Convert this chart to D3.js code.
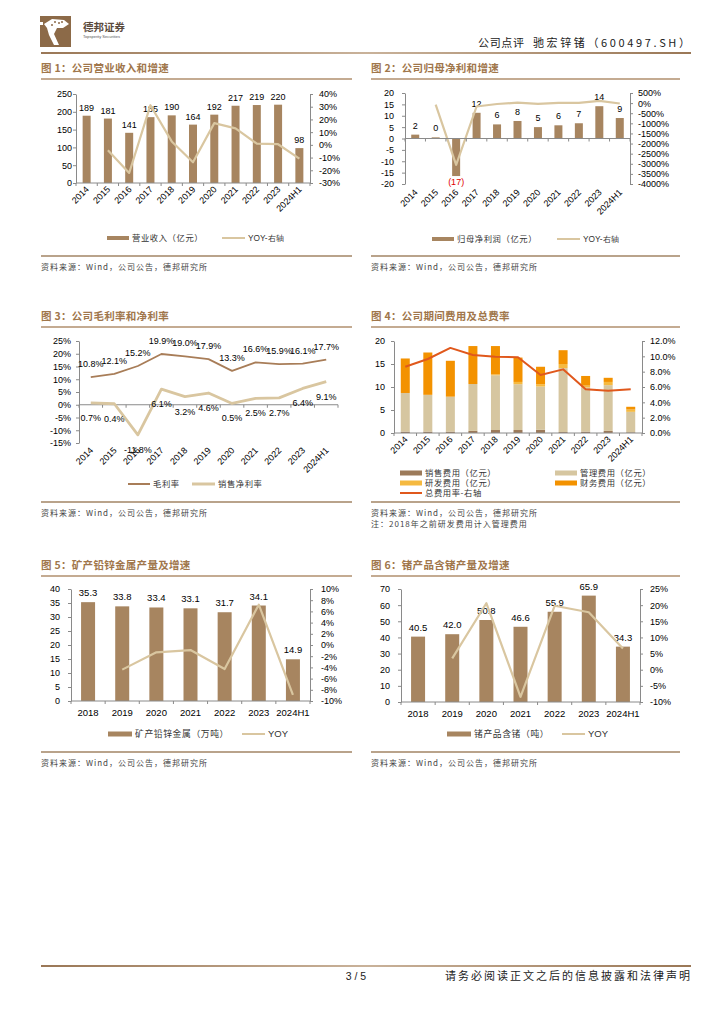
<!DOCTYPE html>
<html><head><meta charset="utf-8">
<script src="https://cdn.jsdelivr.net/npm/d3@7"></script>
<style>body{margin:0;background:#fff} svg{display:block}</style>
</head><body><svg id="c" width="724" height="1024"></svg>
<script>
// ---------------- DATA ----------------
const years11 = ["2014","2015","2016","2017","2018","2019","2020","2021","2022","2023","2024H1"];
const years7 = ["2018","2019","2020","2021","2022","2023","2024H1"];

// Fig 1
const revenue = [189,181,141,185,190,164,192,217,219,220,98];
const revenueYoy = [null,-4.2,-22.1,31.2,2.7,-13.7,17.1,13.0,0.9,0.5,-10.8];
const rev_yTicks = [0,50,100,150,200,250];
const rev_y2Ticks = [-30,-20,-10,0,10,20,30,40];

// Fig 2
const profit = [1.7,0.5,-16.5,11.3,6.2,7.7,5.0,5.8,6.7,14.2,9.0];
const profitLabels = ["2","0","(17)","12","6","8","5","6","7","14","9"];
const profitYoy = [null,-70,-3050,-168,-45,24,-35,16,15,112,-20];
const prof_yTicks = [-20,-15,-10,-5,0,5,10,15,20];
const prof_y2Ticks = [-4000,-3500,-3000,-2500,-2000,-1500,-1000,-500,0,500];

// Fig 3
const grossMargin = [10.8,12.1,15.2,19.9,19.0,17.9,13.3,16.6,15.9,16.1,17.7];
const netMargin = [0.7,0.4,-11.8,6.1,3.2,4.6,0.5,2.5,2.7,6.4,9.1];
const margin_yTicks = [-15,-10,-5,0,5,10,15,20,25];

// Fig 4
const salesExp = [0.3,0.3,0.3,0.45,0.65,0.65,0.7,0.2,0.3,0.45,0.15];
const mgmtExp  = [8.4,8.0,7.6,10.2,11.9,9.95,9.4,13.9,9.6,9.95,4.45];
const rdExp    = [0,0,0,0,0.2,0.5,0.5,0.9,0.4,0.7,0.5];
const finExp   = [7.5,9.2,7.8,8.25,6.15,5.3,3.8,3.0,2.1,0.9,0.6];
const expRate  = [8.65,9.65,11.1,10.17,9.96,9.87,7.57,8.3,5.7,5.5,5.7];
const exp_yTicks = [0,5,10,15,20];
const exp_y2Ticks = [0,2,4,6,8,10,12];

// Fig 5
const leadZinc = [35.3,33.8,33.4,33.1,31.7,34.1,14.9];
const leadZincYoy = [null,-4.4,-1.3,-0.9,-4.3,7.2,-8.9];
const lz_yTicks = [0,5,10,15,20,25,30,35,40];
const lz_y2Ticks = [-10,-8,-6,-4,-2,0,2,4,6,8,10];

// Fig 6
const germanium = [40.5,42.0,50.8,46.6,55.9,65.9,34.3];
const germaniumYoy = [null,3.5,20.6,-8.4,19.8,17.8,6.6];
const ge_yTicks = [0,10,20,30,40,50,60,70];
const ge_y2Ticks = [-10,-5,0,5,10,15,20,25];

// ---------------- STYLE ----------------
const svg = d3.select("#c");
const NUM = "'Liberation Sans', Arial, sans-serif";
const CJK = "'Noto Sans CJK SC', sans-serif";
const BAR = "#A78560", YOYC = "#D9C6A0", TITLEC = "#A0764B", RULEC = "#B9A38B", AXC = "#8a8a8a";

function txt(g, x, y, s, o = {}) {
  const t = g.append("text").attr("x", x).attr("y", y).text(s)
    .attr("font-family", o.ff || NUM).attr("font-size", o.fs || 9)
    .attr("fill", o.fill || "#000").attr("text-anchor", o.anchor || "start")
    .attr("font-weight", o.fw || "normal");
  if (o.ls) t.attr("letter-spacing", o.ls);
  if (o.tl) t.attr("textLength", o.tl).attr("lengthAdjust", "spacing");
  return t;
}
function yAxis(g, scale, x, ticks, fmt, side, gap) {
  const ax = (side === "left" ? d3.axisLeft(scale) : d3.axisRight(scale))
    .tickValues(ticks).tickFormat(fmt).tickSizeOuter(0).tickSizeInner(3).tickPadding(gap - 3);
  const a = g.append("g").attr("transform", `translate(${x},0)`).call(ax);
  a.select(".domain").attr("stroke", AXC);
  a.selectAll(".tick line").attr("stroke", AXC);
  a.selectAll("text").attr("font-family", NUM).attr("font-size", 9).attr("fill", "#000");
  return a;
}
function xLine(g, xs, y) {
  const r = xs.range(), n = xs.domain().length, st = xs.step();
  g.append("line").attr("x1", r[0]).attr("x2", r[1]).attr("y1", y).attr("y2", y).attr("stroke", AXC);
  for (let i = 0; i <= n; i++) {
    const x = r[0] + i * st;
    g.append("line").attr("x1", x).attr("x2", x).attr("y1", y).attr("y2", y + 3).attr("stroke", AXC);
  }
}
function xLabelsRot(g, xs, y) {
  xs.domain().forEach(d => {
    const cx = xs(d) + xs.bandwidth() / 2 + 3;
    g.append("text").attr("transform", `translate(${cx},${y}) rotate(-45)`)
      .attr("text-anchor", "end").attr("font-family", NUM).attr("font-size", 9).text(d);
  });
}
function xLabelsFlat(g, xs, y) {
  xs.domain().forEach(d => txt(g, xs(d) + xs.bandwidth() / 2, y, d, { anchor: "middle", fs: 9.5 }));
}
function frame(x0, x1, titleY, title, ruleY, sources) {
  txt(svg, x0, titleY, title, { ff: CJK, fs: 10.5, fw: "bold", fill: TITLEC, ls: 0.3 });
  svg.append("line").attr("x1", x0).attr("x2", x1).attr("y1", titleY + 7).attr("y2", titleY + 7)
    .attr("stroke", "#B08F6E").attr("stroke-width", 1.3);
  svg.append("line").attr("x1", x0).attr("x2", x1).attr("y1", ruleY).attr("y2", ruleY)
    .attr("stroke", RULEC).attr("stroke-width", 2);
  sources.forEach((s, i) => txt(svg, x0, ruleY + 14 + i * 11, s, { ff: CJK, fs: 8, fill: "#444", ls: 1 }));
}
function legRect(g, x, y, w, h, c, label, fs) {
  g.append("rect").attr("x", x).attr("y", y - h / 2).attr("width", w).attr("height", h).attr("fill", c);
  txt(g, x + w + 3, y + 3, label, { ff: CJK, fs: fs || 8.3, fill: "#333", ls: 0.6 });
}
function legLine(g, x, y, w, c, sw, label, fs) {
  g.append("line").attr("x1", x).attr("x2", x + w).attr("y1", y).attr("y2", y).attr("stroke", c).attr("stroke-width", sw);
  const isLatin = /^[A-Z]/.test(label);
  txt(g, x + w + 3, y + 3, label, { ff: isLatin ? NUM : CJK, fs: fs || 8.3, fill: "#333", ls: isLatin ? 0 : 0.6 });
}
function drawLine(g, xs, ys, vals, c, sw) {
  const cx = (d, i) => xs(xs.domain()[i]) + xs.bandwidth() / 2;
  const line = d3.line().defined(d => d != null).x((d, i) => cx(d, i)).y(d => ys(d));
  g.append("path").datum(vals).attr("d", line).attr("fill", "none").attr("stroke", c)
    .attr("stroke-width", sw).attr("stroke-linejoin", "round");
}

// ---------------- HEADER / FOOTER ----------------
const hdr = svg.append("g");
hdr.append("rect").attr("x", 40).attr("y", 16).attr("width", 31).attr("height", 31).attr("fill", "#8C6A48");
hdr.append("path").attr("d", "M44,24 L52,19 L64,20 L69,24 L63,28 L57,28 L54,34 L59,45 L54,45 L49,35 L47,28 Z").attr("fill", "#fff");
hdr.append("rect").attr("x", 40).attr("y", 22).attr("width", 3).attr("height", 3).attr("fill", "#fff");
[[55,22],[59,23],[62,22],[52,25]].forEach(p => hdr.append("circle").attr("cx", p[0]).attr("cy", p[1]).attr("r", 1).attr("fill", "#8C6A48"));
txt(hdr, 83, 31, "德邦证券", { ff: CJK, fs: 10.5, fw: "bold", fill: "#5a4a3c" });
txt(hdr, 83, 37.5, "Topsperity Securities", { fs: 4, fill: "#555" });
txt(hdr, 478, 47, "公司点评", { ff: CJK, fs: 11, fill: "#222", tl: 46 });
txt(hdr, 533, 47, "驰宏锌锗（600497.SH）", { ff: CJK, fs: 11, fill: "#222", tl: 157 });
const grad = svg.append("defs").append("linearGradient").attr("id", "hg");
grad.append("stop").attr("offset", "0").attr("stop-color", "#9A7756");
grad.append("stop").attr("offset", "0.5").attr("stop-color", "#C9B29A");
grad.append("stop").attr("offset", "1").attr("stop-color", "#9A7756");
svg.append("rect").attr("x", 41).attr("y", 52).attr("width", 650).attr("height", 2).attr("fill", "url(#hg)");
svg.append("rect").attr("x", 41).attr("y", 965).attr("width", 650).attr("height", 2).attr("fill", "url(#hg)");
txt(svg, 356, 980, "3 / 5", { fs: 10.5, anchor: "middle", fill: "#222" });
txt(svg, 445, 980, "请务必阅读正文之后的信息披露和法律声明", { ff: CJK, fs: 11, fill: "#222", tl: 245 });

const SRC = "资料来源：Wind，公司公告，德邦研究所";

// ---------------- FIG 1 ----------------
{
  frame(41, 352, 72, "图 1：公司营业收入和增速", 256, [SRC]);
  const g = svg.append("g");
  const xs = d3.scaleBand().domain(years11).range([76, 310]);
  const ys = d3.scaleLinear().domain([0, 250]).range([183, 94]);
  const y2 = d3.scaleLinear().domain([-30, 40]).range([183, 94]);
  years11.forEach((d, i) => {
    const cx = xs(d) + xs.bandwidth() / 2;
    g.append("rect").attr("x", cx - 4).attr("width", 8).attr("y", ys(revenue[i])).attr("height", ys(0) - ys(revenue[i])).attr("fill", BAR);
    txt(g, cx, ys(revenue[i]) - 5, String(revenue[i]), { anchor: "middle", fs: 9 });
  });
  drawLine(g, xs, y2, revenueYoy, YOYC, 2.2);
  yAxis(g, ys, 76, rev_yTicks, d => d, "left", 4);
  yAxis(g, y2, 310, rev_y2Ticks, d => d + "%", "right", 9);
  xLine(g, xs, 183);
  xLabelsRot(g, xs, 190);
  legRect(g, 107, 238, 22, 4, BAR, "营业收入（亿元）");
  legLine(g, 222, 238, 23, YOYC, 2, "YOY-右轴");
}

// ---------------- FIG 2 ----------------
{
  frame(371, 680, 72, "图 2：公司归母净利和增速", 256, [SRC]);
  const g = svg.append("g");
  const xs = d3.scaleBand().domain(years11).range([405, 630]);
  const ys = d3.scaleLinear().domain([-20, 20]).range([184, 93]);
  const y2 = d3.scaleLinear().domain([-4000, 500]).range([184, 93]);
  years11.forEach((d, i) => {
    const cx = xs(d) + xs.bandwidth() / 2, v = profit[i];
    g.append("rect").attr("x", cx - 4).attr("width", 8).attr("y", ys(Math.max(v, 0))).attr("height", Math.abs(ys(v) - ys(0))).attr("fill", BAR);
    if (v >= 0) txt(g, cx, ys(v) - 6, profitLabels[i], { anchor: "middle", fs: 9 });
    else txt(g, cx, ys(v) + 9, profitLabels[i], { anchor: "middle", fs: 9, fill: "#E00000" });
  });
  drawLine(g, xs, y2, profitYoy, YOYC, 2.2);
  yAxis(g, ys, 405, prof_yTicks, d => d, "left", 11);
  yAxis(g, y2, 630, prof_y2Ticks, d => d + "%", "right", 8);
  xLine(g, xs, ys(0));
  xLabelsRot(g, xs, 193);
  legRect(g, 432, 239, 22, 4, BAR, "归母净利润（亿元）");
  legLine(g, 557, 239, 23, YOYC, 2, "YOY-右轴");
}

// ---------------- FIG 3 ----------------
{
  frame(41, 352, 320, "图 3：公司毛利率和净利率", 502, [SRC]);
  const g = svg.append("g");
  const xs = d3.scaleBand().domain(years11).range([79, 338]);
  const ys = d3.scaleLinear().domain([-15, 25]).range([443, 341]);
  yAxis(g, ys, 79, margin_yTicks, d => d + "%", "left", 8);
  xLine(g, xs, ys(0));
  drawLine(g, xs, ys, grossMargin, "#A87D58", 1.8);
  drawLine(g, xs, ys, netMargin, YOYC, 2.8);
  years11.forEach((d, i) => {
    const cx = xs(d) + xs.bandwidth() / 2;
    txt(g, cx, ys(grossMargin[i]) - 10, grossMargin[i].toFixed(1) + "%", { anchor: "middle", fs: 9 });
    txt(g, cx, ys(netMargin[i]) + 18, netMargin[i].toFixed(1) + "%", { anchor: "middle", fs: 9 });
  });
  xLabelsRot(g, xs, 451);
  legLine(g, 128, 484, 22, "#A87D58", 2, "毛利率");
  legLine(g, 192, 484, 23, YOYC, 3, "销售净利率");
}

// ---------------- FIG 4 ----------------
{
  frame(371, 680, 320, "图 4：公司期间费用及总费率", 502, [SRC, "注：2018年之前研发费用计入管理费用"]);
  const g = svg.append("g");
  const xs = d3.scaleBand().domain(years11).range([394, 642]);
  const ys = d3.scaleLinear().domain([0, 20]).range([433, 341]);
  const y2 = d3.scaleLinear().domain([0, 12]).range([433, 341]);
  const series = [salesExp, mgmtExp, rdExp, finExp];
  const cols = ["#9C7A5A", "#D6C6A0", "#F5B940", "#F39200"];
  years11.forEach((d, i) => {
    const cx = xs(d) + xs.bandwidth() / 2;
    let base = 0;
    series.forEach((s, k) => {
      const v = s[i];
      if (v > 0) g.append("rect").attr("x", cx - 4.5).attr("width", 9).attr("y", ys(base + v)).attr("height", ys(base) - ys(base + v)).attr("fill", cols[k]);
      base += v;
    });
  });
  drawLine(g, xs, y2, expRate, "#E0581C", 2);
  yAxis(g, ys, 394, exp_yTicks, d => d, "left", 9);
  yAxis(g, y2, 642, exp_y2Ticks, d => d.toFixed(1) + "%", "right", 8);
  xLine(g, xs, 433);
  xLabelsRot(g, xs, 440);
  legRect(g, 400, 473, 22, 5, cols[0], "销售费用（亿元）");
  legRect(g, 555, 473, 22, 5, cols[1], "管理费用（亿元）");
  legRect(g, 400, 483, 22, 5, cols[2], "研发费用（亿元）");
  legRect(g, 555, 483, 22, 5, cols[3], "财务费用（亿元）");
  legLine(g, 400, 493, 22, "#E0581C", 2, "总费用率-右轴");
}

// ---------------- FIG 5 ----------------
{
  frame(41, 352, 569, "图 5：矿产铅锌金属产量及增速", 752, [SRC]);
  const g = svg.append("g");
  const xs = d3.scaleBand().domain(years7).range([71, 310]);
  const ys = d3.scaleLinear().domain([0, 40]).range([701, 589]);
  const y2 = d3.scaleLinear().domain([-10, 10]).range([701, 589]);
  years7.forEach((d, i) => {
    const cx = xs(d) + xs.bandwidth() / 2;
    g.append("rect").attr("x", cx - 7).attr("width", 14).attr("y", ys(leadZinc[i])).attr("height", ys(0) - ys(leadZinc[i])).attr("fill", BAR);
    txt(g, cx, ys(leadZinc[i]) - 6, leadZinc[i].toFixed(1), { anchor: "middle", fs: 9.5 });
  });
  drawLine(g, xs, y2, leadZincYoy, YOYC, 2.2);
  yAxis(g, ys, 71, lz_yTicks, d => d, "left", 11);
  yAxis(g, y2, 310, lz_y2Ticks, d => d + "%", "right", 11);
  xLine(g, xs, 701);
  xLabelsFlat(g, xs, 716);
  legRect(g, 108, 734, 24, 5, BAR, "矿产铅锌金属（万吨）", 8.8);
  legLine(g, 242, 734, 23, YOYC, 2, "YOY", 9.5);
}

// ---------------- FIG 6 ----------------
{
  frame(371, 680, 569, "图 6：锗产品含锗产量及增速", 752, [SRC]);
  const g = svg.append("g");
  const xs = d3.scaleBand().domain(years7).range([401, 640]);
  const ys = d3.scaleLinear().domain([0, 70]).range([702, 589]);
  const y2 = d3.scaleLinear().domain([-10, 25]).range([702, 589]);
  years7.forEach((d, i) => {
    const cx = xs(d) + xs.bandwidth() / 2;
    g.append("rect").attr("x", cx - 7).attr("width", 14).attr("y", ys(germanium[i])).attr("height", ys(0) - ys(germanium[i])).attr("fill", BAR);
    txt(g, cx, ys(germanium[i]) - 6, germanium[i].toFixed(1), { anchor: "middle", fs: 9.5 });
  });
  drawLine(g, xs, y2, germaniumYoy, YOYC, 2.2);
  yAxis(g, ys, 401, ge_yTicks, d => d, "left", 11);
  yAxis(g, y2, 640, ge_y2Ticks, d => d + "%", "right", 10);
  xLine(g, xs, 702);
  xLabelsFlat(g, xs, 717);
  legRect(g, 447, 734, 24, 5, BAR, "锗产品含锗（吨）", 8.8);
  legLine(g, 562, 734, 23, YOYC, 2, "YOY", 9.5);
}
</script></body></html>
